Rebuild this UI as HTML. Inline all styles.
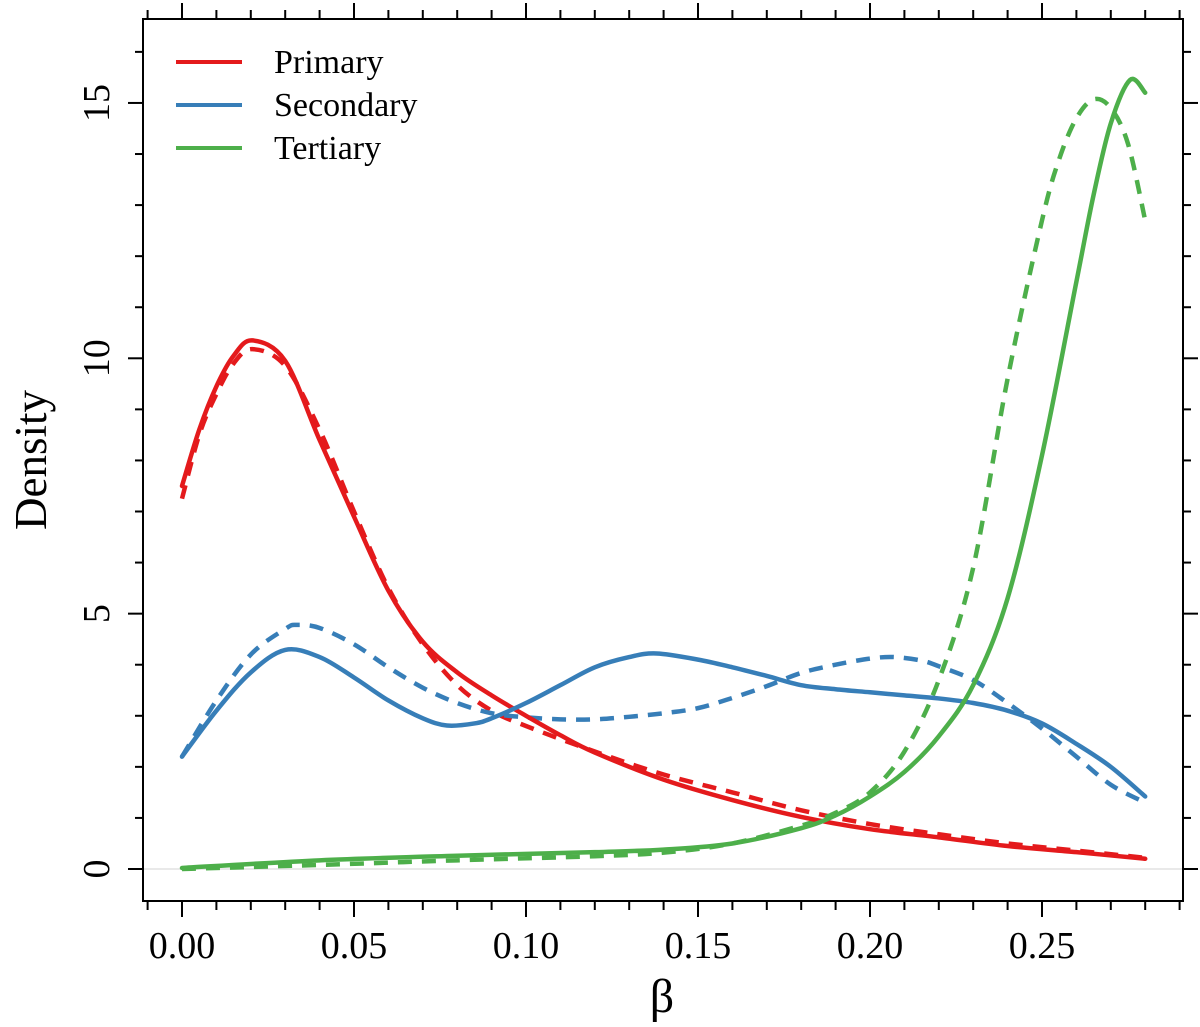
<!DOCTYPE html>
<html><head><meta charset="utf-8"><style>
html,body{margin:0;padding:0;background:#fff;}
svg{display:block;font-family:"Liberation Serif",serif;}
</style></head><body>
<svg id="chart" width="1200" height="1027" viewBox="0 0 1200 1027" xmlns="http://www.w3.org/2000/svg"></svg>
<script>
const xTicksMajor = [0, 0.05, 0.10, 0.15, 0.20, 0.25];
const xTickLabels = ["0.00", "0.05", "0.10", "0.15", "0.20", "0.25"];
const yTicksMajor = [0, 5, 10, 15];
const yTickLabels = ["0", "5", "10", "15"];
const seriesNames = ["Primary", "Secondary", "Tertiary"];

const primarySolidX = [0,.005,.01,.015,.0205,.03,.04,.05,.06,.07,.08,.09,.10,.11,.12,.14,.16,.18,.20,.22,.24,.26,.28];
const primarySolidY = [7.5,8.6,9.45,10.05,10.35,9.95,8.4,6.9,5.45,4.45,3.85,3.4,3.0,2.62,2.28,1.75,1.35,1.02,0.78,0.62,0.45,0.33,0.2];
const primaryDashX = [0,.005,.01,.015,.0205,.03,.04,.05,.06,.07,.08,.09,.10,.12,.14,.16,.18,.20,.22,.24,.26,.28];
const primaryDashY = [7.25,8.5,9.3,9.9,10.18,9.85,8.6,7.0,5.5,4.4,3.6,3.1,2.8,2.3,1.85,1.5,1.15,0.88,0.68,0.5,0.36,0.22];

const secondarySolidX = [0,.01,.02,.03,.04,.05,.06,.07,.077,.085,.09,.10,.11,.12,.13,.138,.15,.16,.17,.18,.19,.20,.21,.22,.23,.24,.25,.26,.27,.28];
const secondarySolidY = [2.2,3.1,3.85,4.29,4.15,3.75,3.3,2.95,2.81,2.85,2.95,3.25,3.6,3.95,4.15,4.22,4.1,3.95,3.78,3.6,3.52,3.46,3.4,3.34,3.25,3.1,2.85,2.45,2.0,1.42];
const secondaryDashX = [0,.01,.02,.03,.0333,.04,.05,.06,.07,.08,.09,.10,.11,.12,.13,.14,.15,.16,.17,.18,.19,.20,.207,.215,.22,.23,.24,.25,.26,.27,.28];
const secondaryDashY = [2.2,3.3,4.2,4.7,4.78,4.72,4.4,3.95,3.55,3.25,3.05,2.97,2.93,2.93,2.98,3.05,3.15,3.35,3.58,3.84,4.0,4.12,4.15,4.08,3.97,3.7,3.25,2.75,2.2,1.65,1.3];

const tertiarySolidX = [0,.04,.08,.12,.14,.16,.18,.19,.20,.21,.22,.23,.24,.25,.26,.265,.27,.2756,.28];
const tertiarySolidY = [0.02,0.17,0.26,0.33,0.38,0.5,0.8,1.05,1.42,1.9,2.6,3.6,5.3,8.1,11.5,13.2,14.6,15.45,15.2];
const tertiaryDashX = [0,.04,.08,.12,.14,.16,.18,.19,.20,.21,.22,.23,.24,.25,.255,.26,.265,.27,.275,.28];
const tertiaryDashY = [0,0.08,0.17,0.25,0.32,0.5,0.85,1.1,1.5,2.3,3.7,5.9,9.6,12.7,13.9,14.7,15.07,14.9,14.2,12.7];

const svg = document.getElementById('chart');
const NS = 'http://www.w3.org/2000/svg';
const L = 143, R = 1183, T = 19, B = 901;
const xs = v => 182 + v * 3440;
const ys = v => 869 - v * 51.07;

function mk(tag, attrs, parent) {
  const e = document.createElementNS(NS, tag);
  for (const k in attrs) e.setAttribute(k, attrs[k]);
  (parent || svg).appendChild(e);
  return e;
}

const zl = mk('line', {x1: L, x2: R, y1: ys(0), y2: ys(0), stroke: '#e2e2e2', 'stroke-width': 1.5});



const tg = mk('g', {stroke: '#000', 'stroke-width': 2});


for (let i = -1; i <= 29; i++) {
  const v = i / 100, x = xs(v), major = (i % 5 === 0);
  const len = major ? 16 : 9;
  mk('line', {x1: x, x2: x, y1: B, y2: B + len}, tg);
  mk('line', {x1: x, x2: x, y1: T, y2: T - len}, tg);
}
for (let i = 0; i <= 16; i++) {
  const y = ys(i), major = (i % 5 === 0);
  const len = major ? 15 : 8;
  mk('line', {x1: L, x2: L - len, y1: y, y2: y}, tg);
  mk('line', {x1: R, x2: R + len, y1: y, y2: y}, tg);
}

xTicksMajor.forEach((v, i) => {
  const t = mk('text', {x: xs(v), y: 958, 'text-anchor': 'middle', 'font-size': 38});
  t.textContent = xTickLabels[i];
  
  
});
yTicksMajor.forEach((v, i) => {
  const t = mk('text', {x: 0, y: 0, 'text-anchor': 'middle', 'font-size': 38, transform: `translate(109,${ys(v)}) rotate(-90)`});
  t.textContent = yTickLabels[i];
  
  
});
const xt = mk('text', {x: 662, y: 1012, 'text-anchor': 'middle', 'font-size': 48});
xt.textContent = 'β';


const yt = mk('text', {x: 0, y: 0, 'text-anchor': 'middle', 'font-size': 45, transform: 'translate(46,460) rotate(-90)'});
yt.textContent = 'Density';



function pathFor(X, Y) {
  const p = X.map((x, i) => [xs(x), ys(Y[i])]);
  let d = `M${p[0][0]},${p[0][1]}`;
  for (let i = 0; i < p.length - 1; i++) {
    const p0 = p[Math.max(0, i - 1)], p1 = p[i], p2 = p[i + 1], p3 = p[Math.min(p.length - 1, i + 2)];
    const c1 = [p1[0] + (p2[0] - p0[0]) / 6, p1[1] + (p2[1] - p0[1]) / 6];
    const c2 = [p2[0] - (p3[0] - p1[0]) / 6, p2[1] - (p3[1] - p1[1]) / 6];
    d += ` C${c1[0]},${c1[1]} ${c2[0]},${c2[1]} ${p2[0]},${p2[1]}`;
  }
  return d;
}
const colors = ['#e41a1c', '#377eb8', '#4daf4a'];
const curves = [
  [primaryDashX, primaryDashY, 0, true, 'primary-dashed-curve'],
  [secondaryDashX, secondaryDashY, 1, true, 'secondary-dashed-curve'],
  [tertiaryDashX, tertiaryDashY, 2, true, 'tertiary-dashed-curve'],
  [primarySolidX, primarySolidY, 0, false, 'primary-solid-curve'],
  [secondarySolidX, secondarySolidY, 1, false, 'secondary-solid-curve'],
  [tertiarySolidX, tertiarySolidY, 2, false, 'tertiary-solid-curve'],
];
curves.forEach(c => {
  const a = {d: pathFor(c[0], c[1]), fill: 'none', stroke: colors[c[2]], 'stroke-width': 4.5, 'stroke-linecap': c[3] ? 'butt' : 'round', 'stroke-linejoin': 'round'};
  if (c[3]) a['stroke-dasharray'] = '14 10';
  const e = mk('path', a);
  
  
});

const bx = mk('rect', {x: L, y: T, width: R - L, height: B - T, fill: 'none', stroke: '#000', 'stroke-width': 2});



const lg = mk('g', {});


seriesNames.forEach((n, i) => {
  const y = 62 + i * 43;
  const ln = mk('line', {x1: 176, x2: 242, y1: y, y2: y, stroke: colors[i], 'stroke-width': 4}, lg);
  
  
  const t = mk('text', {x: 274, y: y + 11, 'font-size': 34}, lg);
  t.textContent = n;
  
  
});
</script>
</body></html>
